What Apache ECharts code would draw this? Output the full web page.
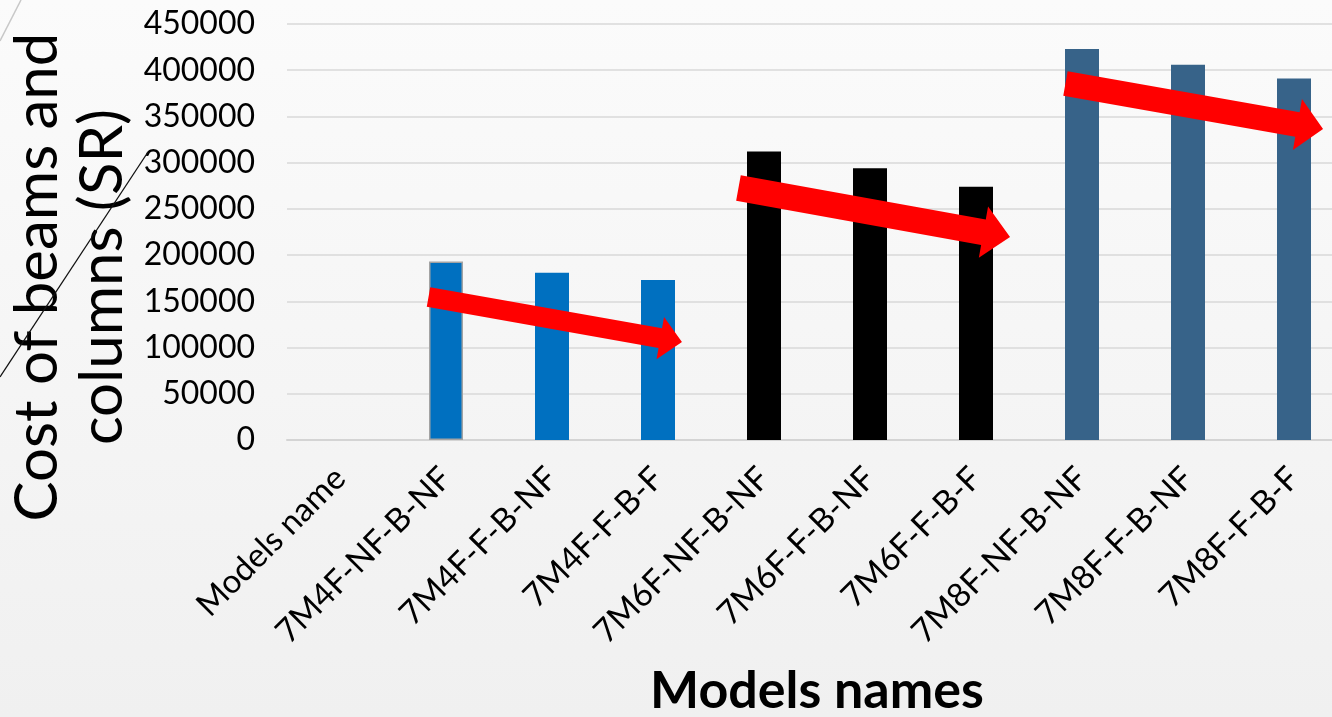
<!DOCTYPE html>
<html>
<head>
<meta charset="utf-8">
<script src="https://cdn.jsdelivr.net/npm/echarts@6/dist/echarts.min.js"></script>
<style>
  html, body { margin: 0; padding: 0; }
  #chart { width: 1332px; height: 717px; }
</style>
</head>
<body>
<div id="chart"></div>
<script>
// Model names along the x axis (first slot is the header cell, no bar)
const modelNames = [
  'Models name',
  '7M4F-NF-B-NF', '7M4F-F-B-NF', '7M4F-F-B-F',
  '7M6F-NF-B-NF', '7M6F-F-B-NF', '7M6F-F-B-F',
  '7M8F-NF-B-NF', '7M8F-F-B-NF', '7M8F-F-B-F'
];

// Cost of beams and columns (SR)
const costValues = [
  null,
  193000, 181000, 173000,
  312000, 294000, 274000,
  423000, 406000, 391000
];

// Storey group of each model (0 = 4 floors, 1 = 6 floors, 2 = 8 floors)
const storeyGroup = [null, 0, 0, 0, 1, 1, 1, 2, 2, 2];

// Y axis ticks
const yTicks = { min: 0, max: 450000, step: 50000 };

// Trend arrows: [start position (category index), start value, end position, end value]
const trendArrows = [
  [0.835, 154700, 3.226, 106000],
  [3.759, 272600, 6.321, 219600],
  [6.844, 385600, 9.274, 336400]
];

// Drawing styles
const groupColors = ['#0070C0', '#000000', '#376389'];
const arrowSizes = [
  { shaft: 20, head: 43, headLen: 22 },
  { shaft: 26, head: 52, headLen: 27 },
  { shaft: 25, head: 52, headLen: 26 }
];
const FONT = 'Lato, "Open Sans", sans-serif';

const chart = echarts.init(document.getElementById('chart'), null, { renderer: 'canvas' });

const barData = costValues.map((v, i) => {
  if (v === null) return null;
  const item = { value: v, itemStyle: { color: groupColors[storeyGroup[i]] } };
  if (i === 1) {
    item.itemStyle.borderColor = '#a3a3a3';
    item.itemStyle.borderWidth = 1.5;
  }
  return item;
});

function renderArrow(params, api) {
  const a = trendArrows[params.dataIndex];
  const sz = arrowSizes[params.dataIndex];
  const band = api.size([1, 0])[0];
  const toPx = (x, y) => {
    const i = Math.floor(x);
    const p = api.coord([i, y]);
    return [p[0] + (x - i) * band, p[1]];
  };
  const t = toPx(a[0], a[1]);
  const h = toPx(a[2], a[3]);
  const dx = h[0] - t[0], dy = h[1] - t[1];
  const len = Math.sqrt(dx * dx + dy * dy);
  const ux = dx / len, uy = dy / len;
  const nx = -uy, ny = ux;
  const bx = h[0] - ux * sz.headLen, by = h[1] - uy * sz.headLen;
  const w = sz.shaft / 2, hw = sz.head / 2;
  const pts = [
    [t[0] + nx * w, t[1] + ny * w],
    [bx + nx * w, by + ny * w],
    [bx + nx * hw, by + ny * hw],
    [h[0], h[1]],
    [bx - nx * hw, by - ny * hw],
    [bx - nx * w, by - ny * w],
    [t[0] - nx * w, t[1] - ny * w]
  ];
  return {
    type: 'polygon',
    shape: { points: pts },
    style: { fill: '#FF0000' }
  };
}

const option = {
  animation: false,
  backgroundColor: {
    type: 'linear', x: 0, y: 0, x2: 0, y2: 1,
    colorStops: [
      { offset: 0, color: '#fbfbfb' },
      { offset: 1, color: '#f0f0f0' }
    ]
  },
  grid: {
    left: 287, right: -15, top: 24, bottom: 277,
    containLabel: false,
    outerBoundsMode: 'none'
  },
  xAxis: {
    type: 'category',
    data: modelNames,
    axisTick: { show: false },
    axisLine: { show: true, lineStyle: { color: '#d4d4d4', width: 2 } },
    axisLabel: {
      rotate: 45,
      interval: 0,
      margin: 33,
      color: '#000',
      fontFamily: FONT,
      fontSize: 33
    },
    name: 'Models names',
    nameLocation: 'middle',
    nameGap: 225,
    nameTextStyle: {
      color: '#000',
      fontFamily: FONT,
      fontWeight: 'bold',
      fontSize: 52
    }
  },
  yAxis: {
    type: 'value',
    min: yTicks.min,
    max: yTicks.max,
    interval: yTicks.step,
    axisLine: { show: false },
    axisTick: { show: false },
    splitLine: { lineStyle: { color: '#d9d9d9', width: 1.5 } },
    axisLabel: {
      margin: 32,
      color: '#000',
      fontFamily: FONT,
      fontSize: 32,
      formatter: v => String(v)
    }
  },
  series: [
    {
      type: 'bar',
      data: barData,
      barWidth: 34,
      silent: true
    },
    {
      type: 'custom',
      data: trendArrows.map(a => [Math.floor(a[0]), a[1]]),
      renderItem: renderArrow,
      clip: false,
      silent: true,
      z: 10
    }
  ],
  graphic: [
    {
      type: 'text',
      x: 70,
      y: 277,
      rotation: Math.PI / 2,
      style: {
        text: 'Cost of beams and\ncolumns (SR)',
        fill: '#000',
        font: '60px Lato, "Open Sans", sans-serif',
        lineHeight: 65,
        align: 'center',
        verticalAlign: 'middle'
      },
      z: 20
    },
    {
      type: 'line',
      shape: { x1: 21, y1: 0, x2: 0, y2: 41 },
      style: { stroke: '#c8c8c8', lineWidth: 1.5 },
      z: 30
    },
    {
      type: 'line',
      shape: { x1: 148, y1: 152, x2: 0, y2: 377 },
      style: { stroke: '#111', lineWidth: 1.3 },
      z: 30
    }
  ]
};

chart.setOption(option);
</script>
</body>
</html>
